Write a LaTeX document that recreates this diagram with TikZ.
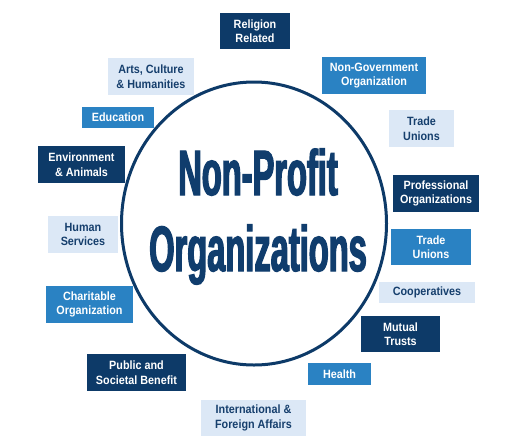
\documentclass[tikz,border=0pt]{standalone}
\usepackage{fontspec}
\usetikzlibrary{shapes.geometric}
\newfontfamily\boxfont[FakeStretch=0.9]{Liberation Sans Bold}
\newfontfamily\titlefont[FakeStretch=0.51,FakeBold=2]{Liberation Sans Bold}
\definecolor{navy}{HTML}{0D3A68}
\definecolor{titleblue}{HTML}{103D6D}
\definecolor{midblue}{HTML}{2A82C3}
\definecolor{lightbox}{HTML}{DCE8F6}
\definecolor{lighttext}{HTML}{163F6D}
\tikzset{
  box/.style={rectangle, inner sep=0pt, align=center,
    font=\boxfont\fontsize{12}{14.5}\selectfont},
  darkbox/.style={box, fill=navy, text=white},
  midbox/.style={box, fill=midblue, text=white},
  litebox/.style={box, fill=lightbox, text=lighttext},
  titletext/.style={anchor=base, font=\titlefont\fontsize{64}{64}\selectfont, text=titleblue},
}
\begin{document}
\begin{tikzpicture}[x=1pt,y=-1pt]
\useasboundingbox[fill=white] (0,0) rectangle (510,444);
% circle
\node[draw=navy, line width=3pt, ellipse, minimum width=265pt, minimum height=283pt, inner sep=0pt] (circ) at (254,223.5) {};
% title
\node[titletext] (t1) at (258,195) {Non-Profit};
\node[titletext] (t2) at (258,271) {Organizations};
% boxes
\node[darkbox, minimum width=70pt, minimum height=36pt] (religion) at (255,31) {Religion\\Related};
\node[litebox, minimum width=86pt, minimum height=37pt] (arts) at (151,76.5) {Arts, Culture\\\& Humanities};
\node[midbox, minimum width=72pt, minimum height=21pt] (edu) at (118,117.5) {Education};
\node[darkbox, minimum width=87pt, minimum height=37pt] (env) at (81.5,164.5) {Environment\\\& Animals};
\node[litebox, minimum width=70pt, minimum height=37pt] (human) at (83,234.5) {Human\\Services};
\node[midbox, minimum width=87pt, minimum height=37pt] (charity) at (89.5,304.5) {Charitable\\Organization};
\node[darkbox, minimum width=99pt, minimum height=37pt] (public) at (136.5,372.5) {Public and\\Societal Benefit};
\node[litebox, minimum width=105pt, minimum height=36pt] (intl) at (253.5,418) {International \&\\Foreign Affairs};
\node[midbox, minimum width=63pt, minimum height=22pt] (health) at (339.5,374) {Health};
\node[darkbox, minimum width=79pt, minimum height=36pt] (mutual) at (400.5,334) {Mutual\\Trusts};
\node[litebox, minimum width=96pt, minimum height=21pt] (coop) at (427,292.5) {Cooperatives};
\node[midbox, minimum width=80pt, minimum height=36pt] (trade2) at (431,247) {Trade\\Unions};
\node[darkbox, minimum width=86pt, minimum height=37pt] (prof) at (436,193.5) {Professional\\Organizations};
\node[litebox, minimum width=65pt, minimum height=37pt] (trade1) at (421.5,128.5) {Trade\\Unions};
\node[midbox, minimum width=104pt, minimum height=37pt] (ngo) at (374,75.5) {Non-Government\\Organization};
\end{tikzpicture}
\end{document}
